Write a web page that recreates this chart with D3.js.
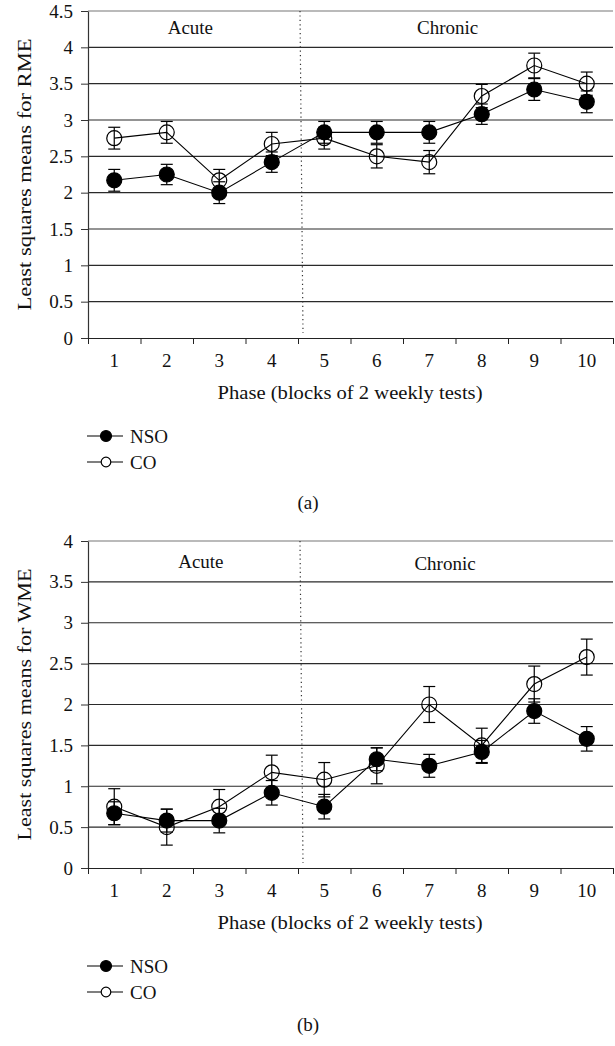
<!DOCTYPE html>
<html>
<head>
<meta charset="utf-8">
<script src="https://cdn.jsdelivr.net/npm/d3@7"></script>
<style>
  html, body { margin: 0; padding: 0; background: #fff; }
  svg { display: block; }
  text { font-family: "Liberation Serif", "DejaVu Serif", serif; fill: #111; }
</style>
</head>
<body>
<svg id="chart" width="615" height="1046"></svg>
<script>
// ---- Data ----
const phases = [1, 2, 3, 4, 5, 6, 7, 8, 9, 10];
const seriesNames = ["NSO", "CO"];

const rmeNSO    = [2.17, 2.25, 2.00, 2.42, 2.83, 2.83, 2.83, 3.08, 3.42, 3.25];
const rmeNSOerr = [0.15, 0.14, 0.15, 0.14, 0.15, 0.15, 0.15, 0.14, 0.15, 0.15];
const rmeCO     = [2.75, 2.83, 2.17, 2.67, 2.75, 2.50, 2.42, 3.33, 3.75, 3.50];
const rmeCOerr  = [0.15, 0.15, 0.15, 0.16, 0.15, 0.16, 0.16, 0.16, 0.17, 0.16];

const wmeNSO    = [0.67, 0.58, 0.58, 0.92, 0.75, 1.33, 1.25, 1.42, 1.92, 1.58];
const wmeNSOerr = [0.14, 0.14, 0.15, 0.15, 0.15, 0.14, 0.14, 0.14, 0.15, 0.15];
const wmeCO     = [0.75, 0.50, 0.75, 1.17, 1.08, 1.25, 2.00, 1.50, 2.25, 2.58];
const wmeCOerr  = [0.22, 0.22, 0.21, 0.21, 0.21, 0.22, 0.22, 0.21, 0.22, 0.22];

const rmeTicks = [0, 0.5, 1, 1.5, 2, 2.5, 3, 3.5, 4, 4.5];
const wmeTicks = [0, 0.5, 1, 1.5, 2, 2.5, 3, 3.5, 4];
const phaseLabels = ["Acute", "Chronic"];

const panels = [
  { top: 11, bottom: 338, ymax: 4.5, ticks: rmeTicks, nso: rmeNSO, nsoErr: rmeNSOerr, co: rmeCO, coErr: rmeCOerr,
    ytitle: "Least squares means for RME", caption: "(a)", labelPos: [2.45, 7.35], labelDy: [23, 23], captionY: 165 },
  { top: 541, bottom: 868, ymax: 4, ticks: wmeTicks, nso: wmeNSO, nsoErr: wmeNSOerr, co: wmeCO, coErr: wmeCOerr,
    ytitle: "Least squares means for WME", caption: "(b)", labelPos: [2.65, 7.3], labelDy: [27, 29], captionY: 157 }
];

const svg = d3.select("#chart");
const left = 88, right = 613;
const FS = 19;

const x = d3.scaleLinear().domain([0.5, 10.5]).range([left, right]);

panels.forEach(p => {
  const g = svg.append("g");
  const y = d3.scaleLinear().domain([0, p.ymax]).range([p.bottom, p.top]);

  // gridlines
  g.append("g").selectAll("line").data(p.ticks.filter(t => t > 0)).join("line")
    .attr("x1", left).attr("x2", right)
    .attr("y1", d => y(d)).attr("y2", d => y(d))
    .attr("stroke", d => d === p.ymax ? "#777" : "#2a2a2a")
    .attr("stroke-width", 1.1);

  // y axis
  const ya = g.append("g").attr("transform", `translate(${left},0)`)
    .call(d3.axisLeft(y).tickValues(p.ticks).tickSize(7).tickSizeOuter(0).tickPadding(8).tickFormat(d3.format("")));
  ya.select(".domain").attr("stroke", "#333").attr("stroke-width", 1.2);
  ya.selectAll(".tick line").attr("stroke", "#333");
  ya.selectAll("text").style("font-size", FS + "px").attr("fill", "#111")
    .style("font-family", '"Liberation Serif", serif');

  // x axis (ticks at band boundaries)
  const xa = g.append("g").attr("transform", `translate(0,${p.bottom})`)
    .call(d3.axisBottom(x).tickValues(d3.range(0.5, 10.6, 1)).tickSize(6).tickSizeOuter(0).tickFormat(""));
  xa.select(".domain").attr("stroke", "#222").attr("stroke-width", 1.2);
  xa.selectAll(".tick line").attr("stroke", "#222");

  // x tick labels
  g.append("g").selectAll("text").data(phases).join("text")
    .attr("x", d => x(d)).attr("y", p.bottom + 29)
    .attr("text-anchor", "middle").style("font-size", FS + "px")
    .text(d => d);

  // dotted separator
  g.append("line")
    .attr("x1", x(4.5) + 2).attr("x2", x(4.5) + 5)
    .attr("y1", p.top).attr("y2", p.bottom - 5)
    .attr("stroke", "#333").attr("stroke-width", 1.2)
    .attr("stroke-dasharray", "1.2,3.2");

  // phase labels
  phaseLabels.forEach((lab, i) => {
    g.append("text").attr("x", x(p.labelPos[i])).attr("y", p.top + p.labelDy[i])
      .attr("text-anchor", "middle").style("font-size", FS + "px").text(lab);
  });

  // titles
  g.append("text")
    .attr("transform", `translate(31,${(p.top + p.bottom) / 2}) rotate(-90)`)
    .attr("text-anchor", "middle").style("font-size", "19.5px")
    .attr("textLength", 272).attr("lengthAdjust", "spacingAndGlyphs")
    .text(p.ytitle);
  g.append("text")
    .attr("x", 350).attr("y", p.bottom + 61)
    .attr("text-anchor", "middle").style("font-size", "19.5px")
    .attr("textLength", 265).attr("lengthAdjust", "spacingAndGlyphs")
    .text("Phase (blocks of 2 weekly tests)");

  const series = [
    { name: "CO", vals: p.co, err: p.coErr, filled: false },
    { name: "NSO", vals: p.nso, err: p.nsoErr, filled: true }
  ];
  const line = d3.line().x((d, i) => x(phases[i])).y(d => y(d));

  series.forEach(s => {
    g.append("path").datum(s.vals).attr("d", line)
      .attr("fill", "none").attr("stroke", "#000").attr("stroke-width", 1.1);
  });
  series.forEach(s => {
    const eg = g.append("g").attr("stroke", "#000").attr("stroke-width", 1.2);
    s.vals.forEach((v, i) => {
      const cx = x(phases[i]);
      const y1 = y(v + s.err[i]), y2 = y(v - s.err[i]);
      eg.append("line").attr("x1", cx).attr("x2", cx).attr("y1", y1).attr("y2", y2);
      eg.append("line").attr("x1", cx - 6).attr("x2", cx + 6).attr("y1", y1).attr("y2", y1);
      eg.append("line").attr("x1", cx - 6).attr("x2", cx + 6).attr("y1", y2).attr("y2", y2);
    });
  });
  series.forEach(s => {
    g.append("g").selectAll("circle").data(s.vals).join("circle")
      .attr("cx", (d, i) => x(phases[i])).attr("cy", d => y(d)).attr("r", 7.5)
      .attr("fill", s.filled ? "#000" : "none")
      .attr("stroke", "#000").attr("stroke-width", 1.2);
  });

  // legend
  const lg = g.append("g");
  seriesNames.forEach((nm, i) => {
    const ly = p.bottom + 98 + i * 26;
    lg.append("line").attr("x1", 87).attr("x2", 123).attr("y1", ly).attr("y2", ly)
      .attr("stroke", "#000").attr("stroke-width", 1.2);
    lg.append("circle").attr("cx", 106).attr("cy", ly).attr("r", nm === "NSO" ? 5.5 : 4.8)
      .attr("fill", nm === "NSO" ? "#000" : "#fff").attr("stroke", "#000").attr("stroke-width", 1.2);
    lg.append("text").attr("x", 130).attr("y", ly + 7).style("font-size", FS + "px").text(nm);
  });

  // caption
  g.append("text").attr("x", 308).attr("y", p.bottom + p.captionY + 6)
    .attr("text-anchor", "middle").style("font-size", FS + "px").text(p.caption);
});
</script>
</body>
</html>
